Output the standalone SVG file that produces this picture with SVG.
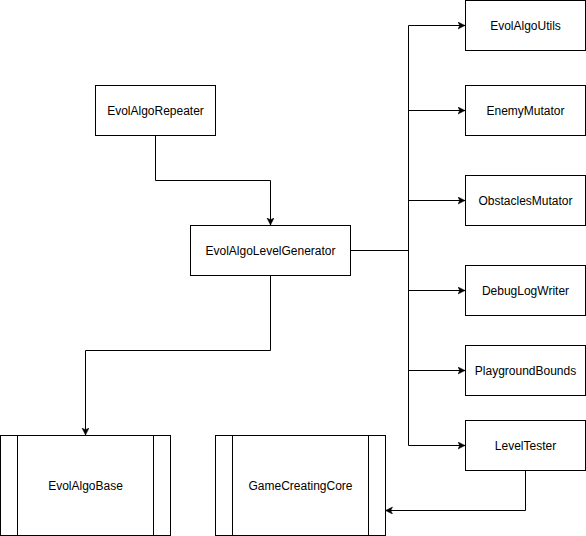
<svg xmlns="http://www.w3.org/2000/svg" width="586" height="536" viewBox="0 0 586 536">
<defs>
<style>
.box{fill:#fff;stroke:#000;stroke-width:1}
.t{font-family:"Liberation Sans",Arial,sans-serif;font-size:12px;fill:#000;text-anchor:middle;dominant-baseline:central}
.c{fill:none;stroke:#000;stroke-width:1}
</style>
<marker id="arr" markerUnits="userSpaceOnUse" markerWidth="8" markerHeight="8" refX="7" refY="3.5" orient="auto">
<path d="M0,0 L7,3.5 L0,7 L1.75,3.5 Z" fill="#000" stroke="#000" stroke-width="0.5"/>
</marker>
</defs>
<rect width="586" height="536" fill="#fff"/>
<g id="connectors">
<path class="c" d="M155.5,135 V180.5 H270.5 V225" marker-end="url(#arr)"/>
<path class="c" d="M270.5,275 V350.5 H85.5 V435" marker-end="url(#arr)"/>
<path class="c" d="M350,250.5 H408.5"/>
<path class="c" d="M408.5,25.5 V445.5"/>
<path class="c" d="M408.5,25.5 H465" marker-end="url(#arr)"/>
<path class="c" d="M408.5,110.5 H465" marker-end="url(#arr)"/>
<path class="c" d="M408.5,200.5 H465" marker-end="url(#arr)"/>
<path class="c" d="M408.5,290.5 H465" marker-end="url(#arr)"/>
<path class="c" d="M408.5,370.5 H465" marker-end="url(#arr)"/>
<path class="c" d="M408.5,445.5 H465" marker-end="url(#arr)"/>
<path class="c" d="M525.5,470 V510.5 H385.5" marker-end="url(#arr)"/>
</g>
<g id="EvolAlgoRepeater"><rect class="box" x="95.5" y="85.5" width="120" height="50"/><text class="t" x="155.5" y="110.5">EvolAlgoRepeater</text></g>
<g id="EvolAlgoLevelGenerator"><rect class="box" x="190.5" y="225.5" width="160" height="50"/><text class="t" x="270.5" y="250.5">EvolAlgoLevelGenerator</text></g>
<g id="EvolAlgoUtils"><rect class="box" x="465.5" y="0.5" width="120" height="50"/><text class="t" x="525.5" y="25.5">EvolAlgoUtils</text></g>
<g id="EnemyMutator"><rect class="box" x="465.5" y="85.5" width="120" height="50"/><text class="t" x="525.5" y="110.5">EnemyMutator</text></g>
<g id="ObstaclesMutator"><rect class="box" x="465.5" y="175.5" width="120" height="50"/><text class="t" x="525.5" y="200.5">ObstaclesMutator</text></g>
<g id="DebugLogWriter"><rect class="box" x="465.5" y="265.5" width="120" height="50"/><text class="t" x="525.5" y="290.5">DebugLogWriter</text></g>
<g id="PlaygroundBounds"><rect class="box" x="465.5" y="345.5" width="120" height="50"/><text class="t" x="525.5" y="370.5">PlaygroundBounds</text></g>
<g id="LevelTester"><rect class="box" x="465.5" y="420.5" width="120" height="50"/><text class="t" x="525.5" y="445.5">LevelTester</text></g>
<g id="EvolAlgoBase"><rect class="box" x="0.5" y="435.5" width="170" height="100"/><path class="c" d="M17.5,435.5 V535.5 M153.5,435.5 V535.5"/><text class="t" x="85.5" y="485.5">EvolAlgoBase</text></g>
<g id="GameCreatingCore"><rect class="box" x="215.5" y="435.5" width="170" height="100"/><path class="c" d="M232.5,435.5 V535.5 M368.5,435.5 V535.5"/><text class="t" x="300.5" y="485.5">GameCreatingCore</text></g>
</svg>
